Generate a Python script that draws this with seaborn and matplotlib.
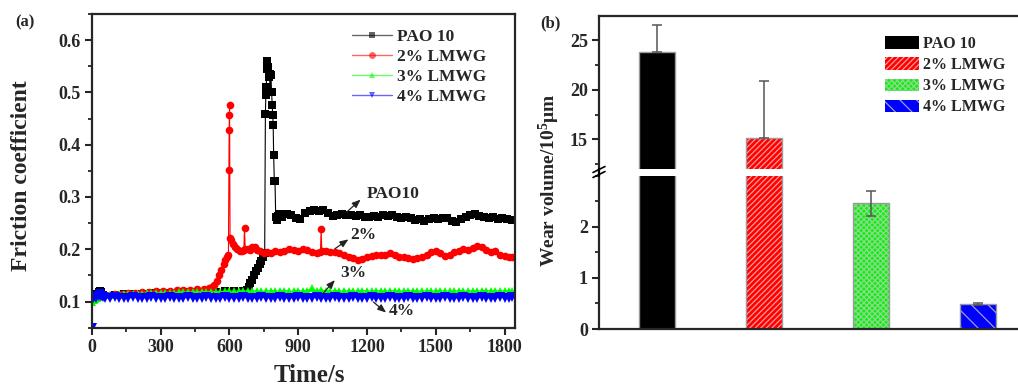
import numpy as np
import pandas as pd
import matplotlib
matplotlib.use("Agg")
import matplotlib.pyplot as plt
from matplotlib.lines import Line2D
from matplotlib.patches import Rectangle
from matplotlib.ticker import MultipleLocator, FormatStrFormatter
import seaborn as sns

# ---------------- data: panel (a) friction coefficient ----------------
series_names = ["PAO 10", "2% LMWG", "3% LMWG", "4% LMWG"]

t_steady = [60, 80, 100, 120, 140, 160, 180, 200, 220, 240,
            260, 280, 300, 320, 340, 360, 380, 400, 420, 440,
            460, 480, 500, 520, 540, 560, 580, 600, 620, 640,
            660, 680, 700, 720, 740, 760, 780, 800, 820, 840,
            860, 880, 900, 920, 940, 960, 980, 1000, 1020, 1040,
            1060, 1080, 1100, 1120, 1140, 1160, 1180, 1200, 1220, 1240,
            1260, 1280, 1300, 1320, 1340, 1360, 1380, 1400, 1420, 1440,
            1460, 1480, 1500, 1520, 1540, 1560, 1580, 1600, 1620, 1640,
            1660, 1680, 1700, 1720, 1740, 1760, 1780, 1800, 1820, 1830]

t_late = [830, 850, 870, 890, 910, 930, 950, 970, 990, 1010,
          1030, 1050, 1070, 1090, 1110, 1130, 1150, 1170, 1190, 1210,
          1230, 1250, 1270, 1290, 1310, 1330, 1350, 1370, 1390, 1410,
          1430, 1450, 1470, 1490, 1510, 1530, 1550, 1570, 1590, 1610,
          1630, 1650, 1670, 1690, 1710, 1730, 1750, 1770, 1790, 1810, 1830]

# PAO 10 (black)
t_pao = ([0, 5, 10, 20, 30, 35, 40, 50,
          100, 140, 180, 220, 260, 300, 340, 380, 420, 460, 500, 540, 580, 620, 660,
          676, 684, 692, 700, 708, 716, 724, 732, 740, 748, 754,
          757, 759, 761, 763, 766, 769, 772, 775, 778, 781, 784, 787, 789, 791, 793,
          796, 799, 802, 806, 812, 818] + t_late)
f_pao = ([0.108, 0.112, 0.115, 0.113, 0.118, 0.121, 0.118, 0.113,
          0.113, 0.114, 0.115, 0.115, 0.116, 0.117, 0.117, 0.118, 0.118, 0.119, 0.119, 0.119,
          0.120, 0.120, 0.120,
          0.123, 0.128, 0.135, 0.142, 0.150, 0.158, 0.165, 0.172, 0.178, 0.186, 0.192,
          0.458, 0.495, 0.510, 0.545, 0.560, 0.548, 0.530, 0.535, 0.500, 0.534, 0.500,
          0.475, 0.456, 0.438, 0.380,
          0.330, 0.330, 0.262, 0.256, 0.263, 0.268] +
         [0.262, 0.268, 0.266, 0.260, 0.258, 0.270, 0.273, 0.276, 0.274, 0.276,
          0.270, 0.264, 0.265, 0.267, 0.266, 0.265, 0.263, 0.265, 0.262, 0.262,
          0.264, 0.262, 0.266, 0.264, 0.265, 0.262, 0.260, 0.262, 0.260, 0.256,
          0.257, 0.255, 0.258, 0.260, 0.258, 0.260, 0.259, 0.254, 0.252, 0.258,
          0.262, 0.265, 0.268, 0.264, 0.262, 0.260, 0.262, 0.258, 0.260, 0.257, 0.256])

# 2% LMWG (red)
t_2 = [0, 10, 20, 40, 60, 80, 100, 130, 160, 190, 220, 250, 280, 310, 340, 370,
       400, 430, 460, 490, 510, 525, 535, 545, 555, 565, 575, 583, 590, 596,
       598, 599, 600, 601, 603, 608, 615, 625, 635, 645, 655, 663, 666, 669,
       680, 690, 700, 710, 720, 735, 750, 765, 780, 800, 820, 840, 860, 880,
       900, 920, 940, 960, 980, 997, 1000, 1003, 1020, 1040, 1060, 1080, 1100,
       1120, 1140, 1160, 1180, 1200, 1220, 1240, 1260, 1280, 1300, 1320, 1340,
       1360, 1380, 1400, 1420, 1440, 1460, 1480, 1500, 1520, 1540, 1560, 1580,
       1600, 1620, 1640, 1660, 1680, 1700, 1720, 1740, 1760, 1780, 1800, 1820, 1830]
f_2 = [0.105, 0.108, 0.110, 0.112, 0.112, 0.113, 0.114, 0.115, 0.116, 0.117, 0.118,
       0.119, 0.120, 0.121, 0.121, 0.122, 0.122, 0.123, 0.124, 0.124, 0.125, 0.127,
       0.132, 0.140, 0.150, 0.160, 0.172, 0.180, 0.186, 0.190,
       0.351, 0.428, 0.456, 0.475, 0.222, 0.218, 0.210, 0.205, 0.200, 0.197, 0.196,
       0.198, 0.241, 0.200,
       0.200, 0.198, 0.205, 0.204, 0.198, 0.196, 0.193, 0.195, 0.193, 0.196, 0.195,
       0.197, 0.200, 0.199,
       0.196, 0.200, 0.198, 0.194, 0.192, 0.195, 0.238, 0.196, 0.196, 0.194, 0.195,
       0.192, 0.190,
       0.186, 0.183, 0.180, 0.181, 0.186, 0.188, 0.190, 0.189, 0.190, 0.193, 0.190,
       0.186,
       0.185, 0.183, 0.181, 0.183, 0.185, 0.190, 0.194, 0.196, 0.192, 0.188, 0.190,
       0.194,
       0.197, 0.200, 0.198, 0.202, 0.206, 0.204, 0.198, 0.194, 0.196, 0.190, 0.188,
       0.186, 0.185]

# 3% LMWG (green)
t_3 = [0, 8, 16, 24, 32, 40, 50] + t_steady
f_3 = ([0.100, 0.103, 0.105, 0.107, 0.109, 0.111, 0.112] +
       [0.112, 0.113, 0.113, 0.114, 0.114, 0.114, 0.115, 0.115, 0.115, 0.116,
        0.116, 0.116, 0.117, 0.117, 0.117, 0.117, 0.118, 0.118, 0.118, 0.118,
        0.118, 0.119, 0.119, 0.119, 0.119, 0.119, 0.120, 0.120, 0.120, 0.120,
        0.120, 0.121, 0.120, 0.121, 0.120, 0.120, 0.121, 0.120, 0.120, 0.121,
        0.120, 0.120, 0.121, 0.120, 0.121, 0.126, 0.120, 0.123, 0.120, 0.120,
        0.121, 0.120, 0.120, 0.121, 0.120, 0.120, 0.121, 0.120, 0.120, 0.121,
        0.120, 0.120, 0.120, 0.121, 0.120, 0.120, 0.121, 0.120, 0.120, 0.120,
        0.121, 0.120, 0.120, 0.121, 0.120, 0.120, 0.120, 0.121, 0.120, 0.120,
        0.121, 0.120, 0.120, 0.121, 0.120, 0.120, 0.121, 0.120, 0.120, 0.120])

# 4% LMWG (blue)
t_4 = [0, 1, 4, 10, 20, 30, 36, 42, 50] + t_steady
f_4 = ([0.050, 0.104, 0.106, 0.108, 0.107, 0.110, 0.115, 0.111, 0.108] +
       [0.107, 0.107, 0.108, 0.107, 0.107, 0.107, 0.108, 0.107, 0.107, 0.107,
        0.108, 0.107, 0.107, 0.107, 0.108, 0.107, 0.107, 0.107, 0.108, 0.107,
        0.107, 0.107, 0.108, 0.107, 0.107, 0.107, 0.108, 0.107, 0.107, 0.107,
        0.108, 0.107, 0.107, 0.107, 0.108, 0.107, 0.107, 0.107, 0.108, 0.107,
        0.107, 0.107, 0.108, 0.107, 0.107, 0.107, 0.108, 0.107, 0.107, 0.107,
        0.108, 0.107, 0.107, 0.107, 0.108, 0.107, 0.107, 0.107, 0.108, 0.107,
        0.107, 0.107, 0.108, 0.107, 0.107, 0.107, 0.108, 0.107, 0.107, 0.107,
        0.108, 0.107, 0.107, 0.107, 0.108, 0.107, 0.107, 0.107, 0.108, 0.107,
        0.107, 0.107, 0.108, 0.107, 0.107, 0.107, 0.108, 0.107, 0.107, 0.108])

# ---------------- data: panel (b) wear volume ----------------
bar_labels = ["PAO 10", "2% LMWG", "3% LMWG", "4% LMWG"]
wear = [23.82, 15.16, 2.46, 0.485]
wear_err_up = [2.66, 5.70, 0.25, 0.02]
wear_err_down = [0.0, 0.0, 0.25, 0.02]

line_colors = ["#000000", "#ff0000", "#00ff00", "#0000ff"]
line_markers = ["s", "o", "^", "v"]
marker_sizes = [5.5, 5.5, 6.0, 7.0]
bar_colors = ["#000000", "#ff0000", "#11ee11", "#0000ff"]
bar_hatches = ["", "//////", "xxxxxx", "\\\\"]
hatch_colors = ["#000000", "#ff9a9a", "#8fd88f", "#9c9cd0"]

# ---------------- style ----------------
sns.set_style("ticks")
plt.rcParams["font.family"] = ["Liberation Serif", "DejaVu Serif"]
plt.rcParams["font.weight"] = "bold"
plt.rcParams["axes.labelweight"] = "bold"
plt.rcParams["mathtext.default"] = "regular"
plt.rcParams["hatch.linewidth"] = 0.9

W, H = 1018, 388
fig = plt.figure(figsize=(W / 100, H / 100), dpi=100)


def fx(px):
    return px / W


def fy(py):
    return 1 - py / H


# ---------- panel (a) ----------
axA = fig.add_axes([fx(91.7), fy(327.7), fx(515 - 91.7), (327.7 - 14) / H])
series = [(t_pao, f_pao), (t_2, f_2), (t_3, f_3), (t_4, f_4)]
for (tt, ff), name, c, m, ms in zip(series, series_names, line_colors,
                                    line_markers, marker_sizes):
    sns.lineplot(x=tt, y=ff, ax=axA, color=c, marker=m, markersize=ms,
                 markeredgewidth=0, linewidth=0.8, estimator=None, sort=False,
                 label=name)

axA.set_xlim(0, 1845)
axA.set_ylim(0.05, 0.65)
axA.xaxis.set_major_locator(MultipleLocator(300))
axA.xaxis.set_minor_locator(MultipleLocator(150))
axA.yaxis.set_major_locator(MultipleLocator(0.1))
axA.yaxis.set_minor_locator(MultipleLocator(0.05))
axA.yaxis.set_major_formatter(FormatStrFormatter("%.1f"))
axA.set_yticks([0.1, 0.2, 0.3, 0.4, 0.5, 0.6])
axA.set_xlabel("")
axA.set_ylabel("")
for s in axA.spines.values():
    s.set_linewidth(1.6)
axA.tick_params(which="major", direction="out", length=5, width=1.5,
                labelsize=13, pad=3)
axA.tick_params(which="minor", direction="out", length=3, width=1.3)
for lab in axA.get_xticklabels() + axA.get_yticklabels():
    lab.set_fontweight("bold")

leg_handles = [Line2D([], [], color=c, marker=m, markersize=5, markeredgewidth=0,
                      linewidth=1.0)
               for c, m in zip(line_colors, line_markers)]
legA = axA.legend(leg_handles, series_names, loc="upper left",
                  bbox_to_anchor=(fx(352), fy(29)), bbox_transform=fig.transFigure,
                  frameon=False, fontsize=12.5, handlelength=2.3, handletextpad=0.3,
                  labelspacing=0.22, borderpad=0, borderaxespad=0)
for txt in legA.get_texts():
    txt.set_fontweight("bold")
for lh in legA.get_lines():
    lh.set_alpha(0.6)

# annotations with arrows
ann = [("PAO10", (1172, 0.295), (1111, 0.271), (1198, 0.305)),
       ("2%", (1119, 0.219), (1060, 0.201), (1126, 0.228)),
       ("3%", (1060, 0.141), (1007, 0.115), (1082, 0.154)),
       ("4%", (1283, 0.079), (1228, 0.099), (1293, 0.0815))]
for txt, head, tail, tpos in ann:
    axA.annotate("", xy=head, xytext=tail,
                 arrowprops=dict(arrowstyle="-|>,head_length=0.5,head_width=0.2",
                                 color="#222222", lw=0.9, shrinkA=0, shrinkB=0))
    axA.text(tpos[0], tpos[1], txt, fontsize=12.5, fontweight="bold",
             ha="left", va="center")

fig.text(fx(309), fy(376), "Time/s", fontsize=18, fontweight="bold",
         ha="center", va="center")
fig.text(fx(22), fy(176), "Friction coefficient", fontsize=17, fontweight="bold",
         ha="center", va="center", rotation=90)
fig.text(fx(25), fy(22), "(a)", fontsize=12, fontweight="bold",
         ha="center", va="center")

# ---------- panel (b): broken y axis ----------
left_b = 599
x_lo, x_hi = -0.54, 3.54
ax_w = (x_hi - x_lo) * 107.0
axT = fig.add_axes([fx(left_b), fy(169.3), ax_w / W, (169.3 - 15.7) / H])
axB = fig.add_axes([fx(left_b), fy(329), ax_w / W, (329 - 175.7) / H])

df_b = pd.DataFrame({"label": bar_labels, "wear": wear})
for ax in (axT, axB):
    sns.barplot(data=df_b, x="label", y="wear", hue="label", palette=bar_colors,
                ax=ax, width=0.336, legend=False, errorbar=None, saturation=1)
    ax.set_xlim(x_lo, x_hi)
    ax.set_xlabel("")
    ax.set_ylabel("")
    ax.set_xticks([])
    for i, p in enumerate(list(ax.patches)):
        p.set_hatch(bar_hatches[i])
        p.set_edgecolor(hatch_colors[i])
        p.set_linewidth(0)
        ax.add_patch(Rectangle(p.get_xy(), p.get_width(), p.get_height(),
                               fill=False, edgecolor="#9a9a9a", linewidth=1.0,
                               zorder=p.get_zorder() + 0.1))
    centers = [p.get_x() + p.get_width() / 2 for p in ax.patches[:4]]
    ax.errorbar(centers, wear, yerr=[wear_err_down, wear_err_up], fmt="none",
                ecolor="#555555", elinewidth=1.1, capsize=3.5, capthick=1.1,
                zorder=5)
    ax.tick_params(which="major", direction="out", length=5, width=1.5,
                   labelsize=13, pad=3)
    ax.tick_params(which="minor", direction="out", length=3, width=1.3)
    ax.spines["right"].set_visible(False)
    for s in ax.spines.values():
        s.set_linewidth(1.6)

axT.set_ylim(12, 27.45)
axT.yaxis.set_major_locator(MultipleLocator(5))
axT.yaxis.set_minor_locator(MultipleLocator(2.5))
axT.set_yticks([15, 20, 25])
axT.spines["bottom"].set_visible(False)

axB.set_ylim(0, 3.0)
axB.yaxis.set_major_locator(MultipleLocator(1))
axB.yaxis.set_minor_locator(MultipleLocator(0.5))
axB.set_yticks([0, 1, 2])
axB.spines["top"].set_visible(False)

for ax in (axT, axB):
    for lab in ax.get_yticklabels():
        lab.set_fontweight("bold")

# connect left spine through the break and draw break marks
fig.add_artist(Line2D([fx(left_b), fx(left_b)], [fy(169.3), fy(175.7)],
                      color="black", lw=1.6))
for dy in (-2.5, 2.5):
    fig.add_artist(Line2D([fx(left_b - 6), fx(left_b + 6)],
                          [fy(175 + dy), fy(169 + dy)], color="black", lw=1.2))

legB_handles = [Rectangle((0, 0), 1, 1, facecolor=c, edgecolor=hc, hatch=h, linewidth=0)
                for c, hc, h in zip(bar_colors, hatch_colors, bar_hatches)]
legB = axT.legend(legB_handles, bar_labels, loc="upper left",
                  bbox_to_anchor=(fx(885), fy(36)), bbox_transform=fig.transFigure,
                  frameon=False, fontsize=11.5, handlelength=2.1, handleheight=0.8,
                  handletextpad=0.3, labelspacing=0.32, borderpad=0, borderaxespad=0)
for txt in legB.get_texts():
    txt.set_fontweight("bold")

fig.text(fx(549), fy(180), "Wear volume/10$\\mathregular{^5}$μm", fontsize=14,
         fontweight="bold", ha="center", va="center", rotation=90)
fig.text(fx(550), fy(23), "(b)", fontsize=12, fontweight="bold",
         ha="center", va="center")

fig.savefig("out.png", dpi=100)
